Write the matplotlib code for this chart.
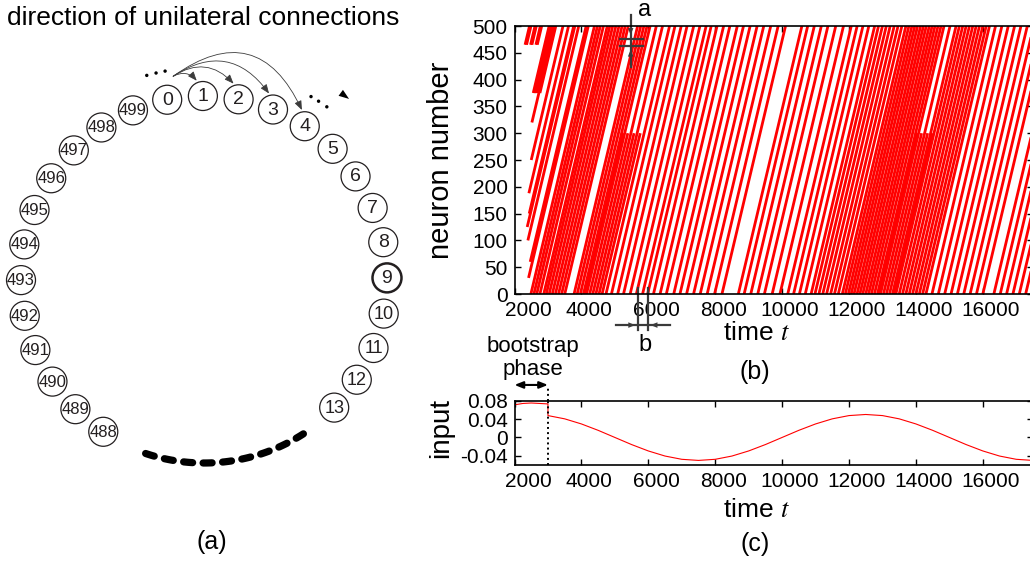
import numpy as np
import matplotlib.pyplot as plt
from matplotlib.patches import Circle, FancyArrowPatch, Polygon
from matplotlib.transforms import ScaledTranslation, blended_transform_factory

plt.rcParams['font.family'] = ['Liberation Sans', 'DejaVu Sans']
plt.rcParams['mathtext.fontset'] = 'stix'

# (a) ring of neurons
right_nodes = list(range(0, 14))
left_nodes = list(range(488, 500))
linked_nodes = [1, 2, 3, 4]      # neurons reached from neuron 0
highlight_node = 9

# (b) raster: time at which each wave passes neuron 0
wave_t0 = [2490, 2580, 2665, 2760, 2874, 2950, 3037, 3130, 3223, 3316,
           3409, 3502, 3781, 3874, 3968, 4061, 4154, 4340, 4526,
           4735, 4898, 5084, 5259, 5457, 5643, 5829, 5980, 6155, 6352,
           6539, 6760, 6946, 7144, 7353, 7551, 7760, 7981, 8202,
           8691, 8865, 9063, 9272, 9470, 9703, 9935, 10168, 10343, 10517,
           10692, 10867, 10982, 11100, 11215, 11330, 11450, 11565, 11680,
           11800, 11890, 11980, 12065, 12150, 12240, 12325, 12410, 12500,
           12585, 12670, 12760, 12850, 12940, 13120, 13300,
           13400, 13500, 13600, 13700, 13800, 13900, 14000, 14100, 14200,
           14300, 14480, 14670, 14860, 15050, 15240, 15430, 15620, 15810,
           16000, 16330, 16520, 16710, 16900, 17090, 17280, 17470]
sweep_time = 1900                # time for one wave to cross 500 neurons
# waves that cover only part of the ring: time at first neuron, first, last
part_t = [2316, 2360, 2480, 2520, 2640, 2680,
          2560, 2600, 2640, 2680, 2720, 2760,
          2430, 2380, 2400, 2440, 2470, 2500, 2520, 2420,
          4110, 4247, 4433, 4619,
          12895, 13030, 13210, 13350]
part_from = [465, 465, 465, 465, 465, 465,
             375, 375, 375, 375, 375, 375,
             188, 125, 100, 150, 60, 250, 320, 30,
             0, 0, 0, 0,
             0, 0, 0, 0]
part_to = [500] * 20 + [300] * 8

# (c) external input
input_t = [2000, 2250, 2500, 2750, 3000, 3000, 3500, 4000, 4500, 5000,
           5500, 6000, 6500, 7000, 7500, 8000, 8500, 9000, 9500, 10000,
           10500, 11000, 11500, 12000, 12500, 13000, 13500, 14000, 14500,
           15000, 15500, 16000, 16500, 17000, 17500]
input_val = [0.071, 0.074, 0.075, 0.074, 0.073, 0.0476, 0.0405, 0.0294,
             0.0155, 0.0, -0.0155, -0.0294, -0.0405, -0.0476, -0.05,
             -0.0476, -0.0405, -0.0294, -0.0155, 0.0, 0.0155, 0.0294,
             0.0405, 0.0476, 0.05, 0.0476, 0.0405, 0.0294, 0.0155, 0.0,
             -0.0155, -0.0294, -0.0405, -0.0476, -0.05]
bootstrap_end = 3000

W, H = 1030, 561
fig = plt.figure(figsize=(W / 100, H / 100), dpi=100)
ink = '#231f20'


def px(x, y):
    return x / W, 1 - y / H


# ---------- (a) ring diagram, drawn in pixel units ----------
ax_a = fig.add_axes([0, 0, 420 / W, 1])
ax_a.set_xlim(0, 420)
ax_a.set_ylim(H, 0)
ax_a.axis('off')

cx, cy, R = 204, 279, 183
node_r = 14.5
step = 11.25


def ring_xy(ang_deg, r=R):
    a = np.radians(ang_deg)
    return cx + r * np.cos(a), cy - r * np.sin(a)


def node_angle(n):
    k = n if n < 250 else n - 500
    return 101.6 - step * k


for n in right_nodes + left_nodes:
    x, y = ring_xy(node_angle(n))
    lw = 1.8 if n == highlight_node else 0.9
    ax_a.add_patch(Circle((x, y), node_r, fill=False, ec=ink, lw=lw))
    label = str(n)
    fs = {1: 14, 2: 13, 3: 12}[len(label)]
    ax_a.text(x, y + 0.5, label, ha='center', va='center', fontsize=fs,
              color=ink)

# connections from neuron 0
x0, y0 = ring_xy(node_angle(0))
start = (x0 + 6, y0 - 23.5)
for k, n in enumerate(linked_nodes):
    xn, yn = ring_xy(node_angle(n))
    a = np.radians(112 - 4 * k)
    tip = (xn + 16.5 * np.cos(a), yn - 16.5 * np.sin(a))
    rad = [-0.4, -0.42, -0.48, -0.6][k]
    ax_a.add_patch(FancyArrowPatch(start, tip,
                                   connectionstyle=f'arc3,rad={rad}',
                                   arrowstyle='-|>,head_length=0.55,head_width=0.22',
                                   mutation_scale=10, color='#3c3c3c', lw=0.6,
                                   shrinkA=0, shrinkB=0))

# ellipses on both sides of the connections
for ang in [100.6, 103.1, 105.7, 59.6, 57.2, 54.5]:
    ax_a.add_patch(Circle(ring_xy(ang, 211.5), 1.7, color='k', lw=0))

# arrowhead showing the direction around the ring
th = np.radians(53.7)
base = np.array(ring_xy(53.7, 231))
d = np.array([np.sin(th), np.cos(th)])
nrm = np.array([-d[1], d[0]])
ax_a.add_patch(Polygon([base + 10.3 * d, base + 3.7 * nrm, base - 3.7 * nrm],
                       closed=True, color='k', lw=0))

# the rest of the ring, left out
arc_ang = np.linspace(251.5, 302.7, 100)
ax, ay = ring_xy(arc_ang, 184)
ax_a.plot(ax, ay, color='k', lw=5.2, dash_capstyle='round',
          linestyle=(0, (1.25, 1.45)))

ax_a.text(203, 18, 'direction of unilateral connections', ha='center',
          va='center', fontsize=19, color='k')
ax_a.text(212, 542, '(a)', ha='center', va='center', fontsize=18)

# ---------- (b) raster and (c) input ----------
left, right = 514.5, 1033
ax_b = fig.add_axes([left / W, 1 - 294 / H, (right - left) / W, 268 / H])
ax_c = fig.add_axes([left / W, 1 - 465 / H, (right - left) / W, 64.3 / H])

per_neuron = sweep_time / 500
for t0 in wave_t0:
    ax_b.plot([t0, t0 + sweep_time], [0, 500], color='#ff0000', lw=2.0,
              solid_capstyle='butt')
for t, n0, n1 in zip(part_t, part_from, part_to):
    ax_b.plot([t, t + (n1 - n0) * per_neuron], [n0, n1], color='#ff0000',
              lw=2.0, solid_capstyle='butt')

ax_b.set_xlim(2000, 17500)
ax_b.set_ylim(0, 500)
ax_b.set_yticks(range(0, 501, 50))

ax_c.plot(input_t, input_val, color='#ff0000', lw=0.8)
ax_c.set_xlim(2000, 17500)
ax_c.set_ylim(-0.06, 0.08)
ax_c.set_yticks([-0.04, 0, 0.04, 0.08])
ax_c.set_yticklabels(['-0.04', '0', '0.04', '0.08'])

for axx in (ax_b, ax_c):
    axx.set_xticks(range(2000, 17000, 2000))
    axx.tick_params(direction='in', top=True, right=True, length=4.5,
                    width=1.0, labelsize=15, pad=5)
    for s in axx.spines.values():
        s.set_linewidth(1.2)
    # tick labels sit a little right of their ticks
    for i, lab in enumerate(axx.get_xticklabels()):
        dx = 14 if i == 0 else 8
        lab.set_transform(lab.get_transform() +
                          ScaledTranslation(dx / 100, 0, fig.dpi_scale_trans))

# markers for the spacings a and b
mk = '#3a3a3a'
head = dict(arrowstyle='-|>,head_length=0.5,head_width=0.2', color=mk, lw=0,
            mutation_scale=10)
ax_b.plot([5472, 5472], [424, 520], color=mk, lw=1.6, clip_on=False)
for n in [463, 476]:
    ax_b.plot([5154, 5842], [n, n], color=mk, lw=1.6, clip_on=False)
ax_b.annotate('', xy=(5472, 478), xytext=(5472, 505), annotation_clip=False,
              arrowprops=head)
ax_b.annotate('', xy=(5472, 461), xytext=(5472, 434), annotation_clip=False,
              arrowprops=head)
ax_b.text(5902, 530, 'a', ha='center', va='center', fontsize=17)

for t in [5693, 5983]:
    ax_b.plot([t, t], [11, -67], color=mk, lw=1.6, clip_on=False)
ax_b.plot([5035, 6649], [-58, -58], color=mk, lw=1.6, clip_on=False)
ax_b.annotate('', xy=(5693, -58), xytext=(5400, -58), annotation_clip=False,
              arrowprops=head)
ax_b.annotate('', xy=(5983, -58), xytext=(6300, -58), annotation_clip=False,
              arrowprops=head)
ax_b.text(5902, -95, 'b', ha='center', va='center', fontsize=17)

# bootstrap phase
ax_c.axvline(bootstrap_end, color='k', ls=':', lw=1.4)
tc = blended_transform_factory(ax_c.transData, ax_c.transAxes)
ax_c.plot([bootstrap_end, bootstrap_end], [1, 1.23], color='k', ls=':',
          lw=1.4, transform=tc, clip_on=False)
ax_c.annotate('', xy=(2000, 1.245), xytext=(bootstrap_end, 1.245),
              xycoords=tc, textcoords=tc, annotation_clip=False,
              arrowprops=dict(arrowstyle='<|-|>,head_length=0.5,head_width=0.2',
                              color='k', lw=1.5, mutation_scale=10,
                              shrinkA=0, shrinkB=0))
ax_c.text(2550, 1.84, 'bootstrap', transform=tc, ha='center', va='center',
          fontsize=16)
ax_c.text(2550, 1.48, 'phase', transform=tc, ha='center', va='center',
          fontsize=16)

# axis labels and panel tags
fig.text(*px(441, 160), 'neuron number', rotation=90, ha='center',
         va='center', fontsize=21)
fig.text(*px(441, 428), 'input', rotation=90, ha='center', va='center',
         fontsize=20)
fig.text(*px(756, 333), 'time $t$', ha='center', va='center', fontsize=19)
fig.text(*px(756, 510), 'time $t$', ha='center', va='center', fontsize=19)
fig.text(*px(755, 372), '(b)', ha='center', va='center', fontsize=18)
fig.text(*px(755, 544), '(c)', ha='center', va='center', fontsize=18)

fig.savefig('out.png', dpi=100)
